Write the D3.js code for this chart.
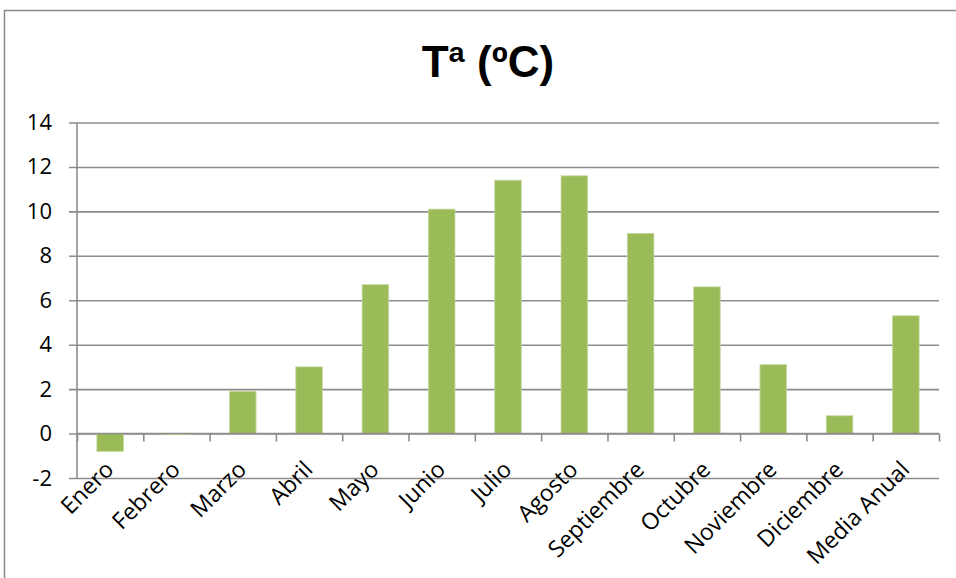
<!DOCTYPE html>
<html>
<head>
<meta charset="utf-8">
<script src="https://cdn.jsdelivr.net/npm/d3@7"></script>
<style>
  html, body { margin: 0; padding: 0; background: #fff; }
  svg { display: block; }
</style>
</head>
<body>
<svg id="chart" width="956" height="578"></svg>
<script>
// Monthly mean temperature (ºC) and annual mean
const categories = ["Enero", "Febrero", "Marzo", "Abril", "Mayo", "Junio", "Julio",
  "Agosto", "Septiembre", "Octubre", "Noviembre", "Diciembre", "Media Anual"];
const temperatures = [-0.8, -0.05, 1.9, 3.0, 6.7, 10.1, 11.4, 11.6, 9.0, 6.6, 3.1, 0.8, 5.3];
const yTicks = [-2, 0, 2, 4, 6, 8, 10, 12, 14];
const title = "Tª (ºC)";

const svg = d3.select("#chart");
const W = 956, H = 578;
const plot = { left: 77, right: 939, top: 122.5, bottom: 478 };
const gridColor = "#8c8c8c";
const barColor = "#9bbb59";
const labelFont = "'Open Sans', 'DejaVu Sans', sans-serif";

// Outer chart frame
svg.append("rect")
  .attr("x", 4.5).attr("y", 10.5)
  .attr("width", W + 20).attr("height", H + 20)
  .attr("fill", "none")
  .attr("stroke", "#8a8a8a")
  .attr("stroke-width", 1.5);

// Title
svg.append("text")
  .attr("x", 488).attr("y", 77)
  .attr("text-anchor", "middle")
  .attr("font-family", "'Liberation Sans', Arial, sans-serif")
  .attr("font-weight", "bold")
  .attr("font-size", 44)
  .attr("fill", "#000")
  .text(title);

const x = d3.scaleBand()
  .domain(categories)
  .range([plot.left, plot.right])
  .paddingInner(0.6)
  .paddingOuter(0.3);

const xBoundary = d3.scaleLinear()
  .domain([0, categories.length])
  .range([plot.left, plot.right]);

const y = d3.scaleLinear()
  .domain([-2, 14])
  .range([plot.bottom, plot.top]);

// Horizontal gridlines, with short tick marks left of the axis
const yAxis = d3.axisLeft(y)
  .tickValues(yTicks)
  .tickSize(-(plot.right - plot.left))
  .tickPadding(25)
  .tickFormat(d => String(d));

const gy = svg.append("g")
  .attr("transform", `translate(${plot.left},0)`)
  .call(yAxis);
gy.select(".domain").remove();
gy.selectAll(".tick line")
  .attr("x1", -8)
  .attr("stroke", gridColor)
  .attr("stroke-width", 1.6);
gy.selectAll(".tick text")
  .attr("font-family", labelFont)
  .attr("font-size", 22)
  .attr("fill", "#000");

// Vertical value axis line
svg.append("line")
  .attr("x1", plot.left).attr("x2", plot.left)
  .attr("y1", plot.top).attr("y2", plot.bottom)
  .attr("stroke", gridColor)
  .attr("stroke-width", 1.6);

// Bars
svg.append("g")
  .selectAll("rect")
  .data(categories.map((c, i) => ({ c, v: temperatures[i] })))
  .join("rect")
  .attr("x", d => x(d.c))
  .attr("width", x.bandwidth())
  .attr("y", d => y(Math.max(0, d.v)))
  .attr("height", d => Math.abs(y(d.v) - y(0)))
  .attr("fill", barColor)
  .attr("stroke", "#c4d79e")
  .attr("stroke-width", 0.8);

// Category axis along the zero line, tick marks at category boundaries
const xAxis = d3.axisBottom(xBoundary)
  .tickValues(d3.range(0, categories.length + 1))
  .tickSize(8)
  .tickFormat("");
const gx = svg.append("g")
  .attr("transform", `translate(0,${y(0)})`)
  .call(xAxis);
gx.select(".domain")
  .attr("stroke", gridColor)
  .attr("stroke-width", 1.6)
  .attr("d", `M${plot.left},0H${plot.right}`);
gx.selectAll(".tick line")
  .attr("stroke", gridColor)
  .attr("stroke-width", 1.6);

// Rotated category labels under the plot
svg.append("g")
  .selectAll("text")
  .data(categories)
  .join("text")
  .attr("transform", d => `translate(${x(d) + x.bandwidth() / 2 + 5},${plot.bottom - 7}) rotate(-45)`)
  .attr("text-anchor", "end")
  .attr("font-family", labelFont)
  .attr("font-size", 23)
  .attr("fill", "#000")
  .text(d => d);
</script>
</body>
</html>
